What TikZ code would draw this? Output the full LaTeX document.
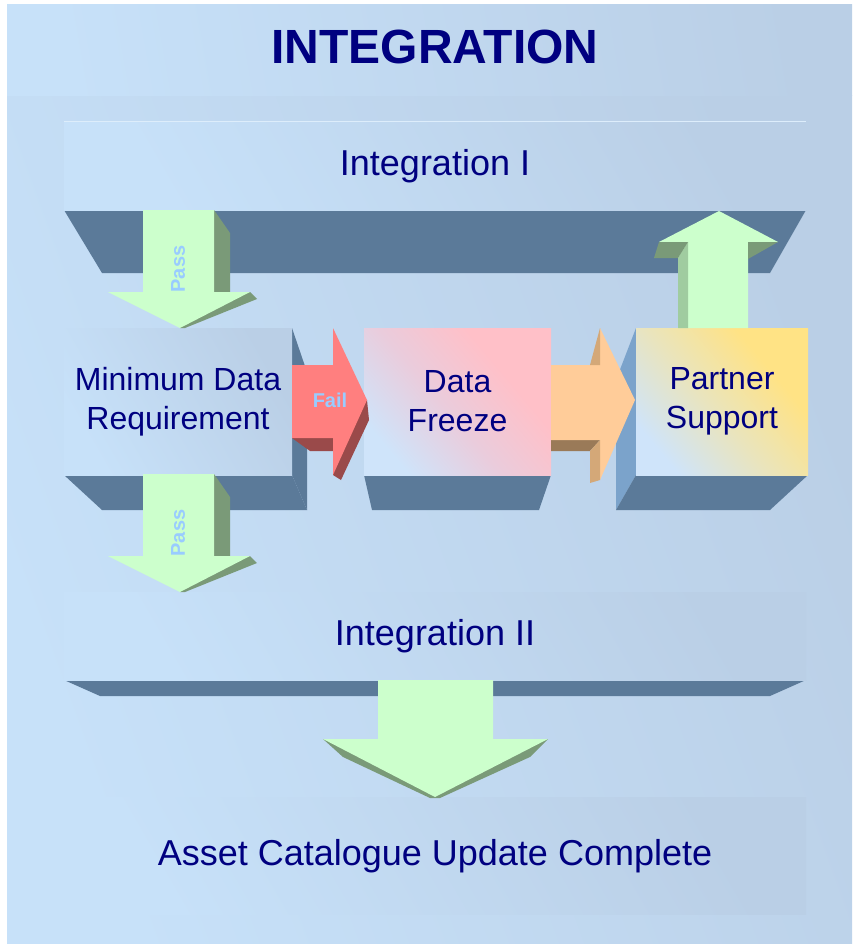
\documentclass[tikz,border=0pt]{standalone}
\usepackage{fontspec}
\setmainfont{Liberation Sans}
\definecolor{navy}{HTML}{000080}
\definecolor{bgL}{HTML}{C7E1F9}
\definecolor{bgD}{HTML}{BACFE6}
\definecolor{slate}{HTML}{5B7A99}
\definecolor{grn}{HTML}{CCFFCC}
\definecolor{grnD}{HTML}{7A9A78}
\definecolor{grnM}{HTML}{A0CCA0}
\definecolor{redA}{HTML}{FF7F7F}
\definecolor{redD}{HTML}{9A4A4A}
\definecolor{orA}{HTML}{FFCC99}
\definecolor{orD}{HTML}{9A7A58}
\definecolor{orT}{HTML}{D4A878}
\definecolor{sideB}{HTML}{7BA3CB}
\definecolor{pinkA}{HTML}{FFC0C8}
\definecolor{pinkM}{HTML}{EACCDC}
\definecolor{yelA}{HTML}{FFE385}
\definecolor{yelM}{HTML}{E9E4BE}
\definecolor{iceB}{HTML}{CFE4FA}
\definecolor{lblue}{HTML}{99CCFF}
\pgfdeclareverticalshading{pinkfade}{100bp}{color(0bp)=(iceB); color(25bp)=(iceB); color(46bp)=(pinkM); color(66bp)=(pinkA); color(100bp)=(pinkA)}
\pgfdeclareverticalshading{yelfade}{100bp}{color(0bp)=(iceB); color(25bp)=(iceB); color(46bp)=(yelM); color(68bp)=(yelA); color(100bp)=(yelA)}
\tikzset{
  face/.style={shading=axis, top color=bgD, bottom color=bgL, shading angle=-60,
    inner sep=0pt, align=center, text=navy, font=\fontsize{32}{39}\selectfont},
  bigface/.style={face, font=\fontsize{36}{43}\selectfont},
  lbl/.style={text=lblue, font=\bfseries\fontsize{20}{24}\selectfont, inner sep=0pt},
}
\begin{document}
\begin{tikzpicture}[x=1pt,y=-1pt]
\useasboundingbox (0,0) rectangle (852,944);
\fill[white] (0,0) rectangle (852,944);
% backgrounds
\shade[shading=axis, top color=bgD, bottom color=bgL, shading angle=-70] (7,96) rectangle (852,944);
\shade[shading=axis, top color=bgD, bottom color=bgL, shading angle=-80] (7,5) rectangle (852,96);
\node[text=navy, font=\bfseries\fontsize{48}{56}\selectfont] (title) at (435,47) {INTEGRATION};

% Integration I
\fill[slate] (64,210) -- (806,210) -- (770,273) -- (102,273) -- cycle;
\node[bigface, minimum width=742pt, minimum height=88pt] (int1) at (435,166) {Integration I};
\draw[bgL!60!white, line width=0.8pt] (int1.north west) -- (int1.north east);

% Minimum data requirement box
\fill[slate] (292,328) -- (307,372) -- (307,510) -- (292,475) -- cycle;
\fill[slate] (64,475) -- (292,475) -- (307,510) -- (102,510) -- cycle;
\node[face, minimum width=228pt, minimum height=147pt] (mdr) at (178,401.5) {Minimum Data\\Requirement};

% Data freeze box
\fill[slate] (364,475) -- (551,475) -- (539,510) -- (372,510) -- cycle;
\node[face, shading=pinkfade, shading angle=-50,
  minimum width=187pt, minimum height=147pt] (df) at (457.5,401.5) {Data\\Freeze};

% Partner support box
\fill[sideB] (636,328) -- (616,380) -- (616,510) -- (636,475) -- cycle;
\fill[slate] (636,475) -- (808,475) -- (770,510) -- (616,510) -- cycle;
\node[face, shading=yelfade, shading angle=-50,
  minimum width=172pt, minimum height=147pt] (ps) at (722,401.5) {Partner\\Support};

% Integration II
\fill[slate] (64,680) -- (806,680) -- (770,696) -- (100,696) -- cycle;
\node[bigface, minimum width=742pt, minimum height=88pt] (int2) at (435,636) {Integration II};

% Asset catalogue
\node[bigface, minimum width=742pt, minimum height=117pt] (acu) at (435,856) {Asset Catalogue Update Complete};

% Pass arrow 1
\fill[grnD] (214,210) -- (230,233) -- (230,292) -- (250,292) -- (257,299) -- (185,328) -- (180,328) -- cycle;
\fill[grn] (143,210) -- (214,210) -- (214,292) -- (250,292) -- (180,328) -- (108,292) -- (143,292) -- cycle;
\node[lbl, rotate=90] (pass1) at (178,269) {Pass};

% Pass arrow 2
\fill[grnD] (214,474) -- (230,497) -- (230,556) -- (250,556) -- (257,563) -- (185,592) -- (180,592) -- cycle;
\fill[grn] (143,474) -- (214,474) -- (214,556) -- (250,556) -- (180,592) -- (108,556) -- (143,556) -- cycle;
\node[lbl, rotate=90] (pass2) at (178,533) {Pass};

% Fail arrow
\fill[redD] (292,438) -- (333,438) -- (367,400) -- (369,420) -- (341,480) -- (333,475) -- (333,451) -- (310,451) -- cycle;
\fill[redA] (292,365) -- (333,365) -- (333,328) -- (367,400) -- (333,475) -- (333,438) -- (292,438) -- cycle;
\node[lbl] (fail) at (330,400) {Fail};

% Orange arrow
\fill[orD] (551,440) -- (600,440) -- (590,451) -- (551,451) -- cycle;
\fill[orA] (551,365) -- (600,365) -- (600,328) -- (635,400) -- (600,480) -- (600,440) -- (551,440) -- cycle;
\fill[orT] (600,328) -- (600,365) -- (590,365) -- cycle;
\fill[orT] (600,440) -- (600,480) -- (590,483) -- (590,451) -- cycle;

% Up arrow
\fill[grn] (678,328) -- (678,242) -- (659,242) -- (719,211) -- (778,242) -- (748,242) -- (748,328) -- cycle;
\fill[grnM] (678,258) -- (688,242) -- (688,328) -- (678,328) -- cycle;
\fill[grnD] (659,242) -- (688,242) -- (678,258) -- (654,258) -- cycle;
\fill[grnD] (748,242) -- (778,242) -- (748,259) -- cycle;

% Big down arrow
\fill[grnD] (323,739) -- (343,757) -- (430,798) -- (440,798) -- (530,757) -- (548,739) -- cycle;
\fill[grn] (378,680) -- (493,680) -- (493,739) -- (548,739) -- (435,797) -- (323,739) -- (378,739) -- cycle;
\end{tikzpicture}
\end{document}
